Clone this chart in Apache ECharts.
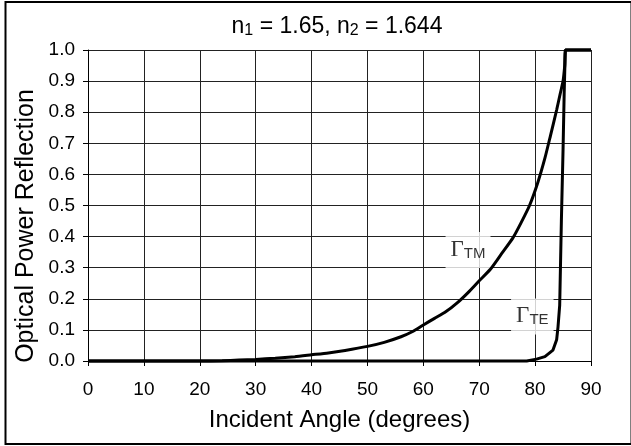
<!DOCTYPE html>
<html>
<head>
<meta charset="utf-8">
<script src="https://cdn.jsdelivr.net/npm/echarts@6/dist/echarts.min.js"></script>
<style>
  html, body { margin: 0; padding: 0; background: #fff; }
  #chart { width: 631px; height: 446px; }
</style>
</head>
<body>
<div id="chart"></div>
<script>
// readings
const tmAngle = [0, 10, 20, 24, 27, 30, 33.5, 37, 40, 43, 46, 50, 53, 56, 58, 60, 62, 64, 66, 68, 70, 72, 74, 76, 77.5, 79, 80.5, 81.75, 82.75, 83.85, 84.5, 85, 85.3, 85.5, 90]
const tmReflect = [0, 0, 0, 0.001, 0.003, 0.005, 0.009, 0.014, 0.02, 0.026, 0.034, 0.047, 0.06, 0.078, 0.094, 0.116, 0.137, 0.158, 0.186, 0.22, 0.258, 0.295, 0.345, 0.395, 0.445, 0.5, 0.575, 0.652, 0.725, 0.807, 0.86, 0.9, 0.95, 1.0, 1.0]
const teAngle = [0, 78.5, 80.25, 81.75, 83.2, 83.85, 84.1, 84.4, 84.7, 85.0, 85.2, 85.4, 90]
const teReflect = [0, 0, 0.006, 0.014, 0.035, 0.068, 0.11, 0.18, 0.45, 0.68, 0.86, 1.0, 1.0]

// curve labels, placed in data coordinates
const tmLabelAt = [68.0, 0.357]
const teLabelAt = [79.5, 0.143]

const titleText = 'n{sub|1} = 1.65, n{sub|2} = 1.644'
const xName = 'Incident Angle (degrees)'
const yName = 'Optical Power Reflection'

const zip = (xs, ys) => xs.map((x, i) => [x, ys[i]])

const gammaRich = {
    g: { fontFamily: '"Liberation Serif", serif', fontSize: 23, lineHeight: 22, color: '#000', verticalAlign: 'bottom' },
    s: { fontFamily: '"Liberation Sans", Arial, sans-serif', fontSize: 15, lineHeight: 15, color: '#000', verticalAlign: 'bottom' }
}

const chart = echarts.init(document.getElementById('chart'), null, { renderer: 'canvas' })

const option = {
    animation: false,
    backgroundColor: '#fff',
    textStyle: { fontFamily: '"Liberation Sans", Arial, sans-serif' },
    grid: { left: 88, right: 40, top: 50, bottom: 85, containLabel: false },
    xAxis: {
        type: 'value',
        min: 0,
        max: 90,
        interval: 10,
        name: xName,
        nameLocation: 'middle',
        nameGap: 47,
        nameTextStyle: { fontSize: 24, color: '#000' },
        axisLine: { show: true, onZero: false, lineStyle: { color: '#000', width: 1 } },
        axisTick: { show: true, inside: false, length: 5, lineStyle: { color: '#000' } },
        axisLabel: { fontSize: 19, color: '#000', margin: 19 },
        splitLine: { show: true, lineStyle: { color: '#222', width: 1 } }
    },
    yAxis: {
        type: 'value',
        min: 0,
        max: 1,
        interval: 0.1,
        axisLine: { show: true, lineStyle: { color: '#000', width: 1 } },
        axisTick: { show: true, inside: false, length: 5, lineStyle: { color: '#000' } },
        axisLabel: { fontSize: 19, color: '#000', margin: 13, formatter: v => v.toFixed(1) },
        splitLine: { show: true, lineStyle: { color: '#222', width: 1 } }
    },
    graphic: [
        {
            type: 'rect',
            shape: { x: 5.5, y: 2, width: 626, height: 442 },
            style: { fill: null, stroke: '#000', lineWidth: 2 },
            silent: true
        },
        {
            type: 'text',
            x: 337,
            y: 27,
            style: {
                text: titleText,
                fontFamily: '"Liberation Sans", Arial, sans-serif',
                fontSize: 23,
                fill: '#000',
                align: 'center',
                verticalAlign: 'middle',
                rich: {
                    sub: { fontSize: 16, lineHeight: 12, verticalAlign: 'bottom', fontFamily: '"Liberation Sans", Arial, sans-serif' }
                }
            },
            silent: true
        },
        {
            type: 'text',
            x: 26,
            y: 226,
            rotation: Math.PI / 2,
            style: {
                text: yName,
                fontFamily: '"Liberation Sans", Arial, sans-serif',
                fontSize: 25,
                fill: '#000',
                align: 'center',
                verticalAlign: 'middle'
            },
            silent: true
        }
    ],
    series: [
        {
            name: 'TM',
            type: 'line',
            data: zip(tmAngle, tmReflect),
            showSymbol: false,
            clip: false,
            smooth: 0.2,
            z: 3,
            lineStyle: { color: '#000', width: 3 }
        },
        {
            name: 'TE',
            type: 'line',
            data: zip(teAngle, teReflect),
            showSymbol: false,
            clip: false,
            z: 3,
            lineStyle: { color: '#000', width: 3 }
        },
        {
            type: 'scatter',
            symbolSize: 0,
            z: 1,
            silent: true,
            data: [tmLabelAt, teLabelAt],
            label: {
                show: true,
                position: 'inside',
                backgroundColor: '#fff',
                padding: [7, 5, 7, 5],
                formatter: p => p.dataIndex === 0 ? '{g|Γ}{s|TM}' : '{g|Γ}{s|TE}',
                rich: gammaRich
            }
        }
    ]
}

chart.setOption(option)
</script>
</body>
</html>
